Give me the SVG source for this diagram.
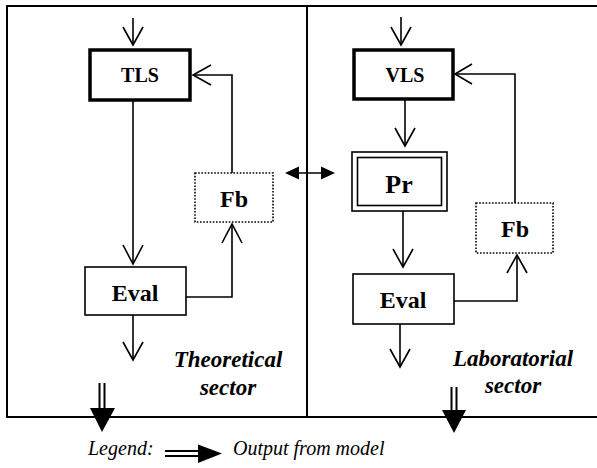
<svg xmlns="http://www.w3.org/2000/svg" width="597" height="468" viewBox="0 0 597 468">
<style>
.ln{fill:none;stroke:#000;stroke-width:1.6}
.hd{fill:none;stroke:#000;stroke-width:1.6;stroke-linejoin:miter}
.fr{fill:none;stroke:#000;stroke-width:2}
.thick{fill:#fff;stroke:#000;stroke-width:3.5}
.thin{fill:#fff;stroke:#000;stroke-width:1.6}
.dot{fill:#fff;stroke:#000;stroke-width:1.6;stroke-dasharray:1.6 1.6}
text{font-family:'Liberation Serif','DejaVu Serif',serif}
.lbl{font-weight:bold;text-anchor:middle;fill:#000}
.sec{font-weight:bold;font-style:italic;font-size:23px;text-anchor:middle;fill:#000}
.leg{font-style:italic;font-size:20px;fill:#000}
.fill{fill:#000;stroke:none}
</style>
<g id="frame">
<polyline class="fr" points="597,6 7,6 7,417 597,417"/>
<line class="fr" x1="307" y1="6" x2="307" y2="417"/>
</g>
<g id="connectors">
<line class="ln" x1="133" y1="18" x2="133" y2="45"/>
<polyline class="hd" points="123,27 133,45 143,27"/>
<line class="ln" x1="133" y1="100" x2="133" y2="264"/>
<polyline class="hd" points="123,245 133,264 143,245"/>
<line class="ln" x1="133" y1="315" x2="133" y2="360"/>
<polyline class="hd" points="123,342 133,360 143,342"/>
<polyline class="ln" points="186,297 232,297 232,224"/>
<polyline class="hd" points="222,243 232,224 242,243"/>
<polyline class="ln" points="232,173 232,75 193,75"/>
<polyline class="hd" points="211,65 193,75 211,85"/>
<line class="ln" x1="292" y1="173" x2="328" y2="173"/>
<polygon class="fill" points="285,173 299,166.5 299,179.5"/>
<polygon class="fill" points="335,173 321,166.5 321,179.5"/>
<line class="ln" x1="401" y1="17" x2="401" y2="45"/>
<polyline class="hd" points="391,27 401,45 411,27"/>
<line class="ln" x1="405" y1="99" x2="405" y2="146"/>
<polyline class="hd" points="395,128 405,146 415,128"/>
<line class="ln" x1="403" y1="211" x2="403" y2="267"/>
<polyline class="hd" points="393,249 403,267 413,249"/>
<line class="ln" x1="400" y1="324" x2="400" y2="367"/>
<polyline class="hd" points="390,349 400,367 410,349"/>
<polyline class="ln" points="454,301 517,301 517,255"/>
<polyline class="hd" points="507,273 517,255 527,273"/>
<polyline class="ln" points="515,203 515,74 455,74"/>
<polyline class="hd" points="472,64 455,74 472,84"/>
<line class="fr" x1="99.5" y1="383" x2="99.5" y2="410"/>
<line class="fr" x1="104.5" y1="383" x2="104.5" y2="410"/>
<polygon class="fill" points="90,408 115,408 102,432"/>
<line class="fr" x1="451.5" y1="387" x2="451.5" y2="412"/>
<line class="fr" x1="456.5" y1="387" x2="456.5" y2="412"/>
<polygon class="fill" points="442,410 466,410 454,433"/>
</g>
<g id="TLS">
<rect class="thick" x="90" y="50" width="100" height="50"/>
<text class="lbl" x="140" y="82" font-size="20">TLS</text>
</g>
<g id="Fb1">
<rect class="dot" x="195" y="173" width="78" height="49"/>
<text class="lbl" x="234" y="207" font-size="24">Fb</text>
</g>
<g id="Eval1">
<rect class="thin" x="85" y="267" width="101" height="48"/>
<text class="lbl" x="135" y="301" font-size="24">Eval</text>
</g>
<g id="VLS">
<rect class="thick" x="354" y="50" width="99" height="49"/>
<text class="lbl" x="405" y="82" font-size="20">VLS</text>
</g>
<g id="Pr">
<rect class="thin" x="352" y="152" width="95" height="59" stroke-width="2"/>
<rect class="thin" x="357.5" y="157.5" width="84" height="48" stroke-width="2"/>
<text class="lbl" x="399" y="193" font-size="26">Pr</text>
</g>
<g id="Fb2">
<rect class="dot" x="476" y="203" width="77" height="50"/>
<text class="lbl" x="515" y="237" font-size="24">Fb</text>
</g>
<g id="Eval2">
<rect class="thin" x="353" y="274" width="101" height="50"/>
<text class="lbl" x="403" y="308" font-size="24">Eval</text>
</g>
<g id="sectors">
<text class="sec" x="228" y="367">Theoretical</text>
<text class="sec" x="228" y="395">sector</text>
<text class="sec" x="513" y="366">Laboratorial</text>
<text class="sec" x="513" y="393">sector</text>
</g>
<g id="legend">
<text class="leg" x="88" y="455">Legend:</text>
<line class="fr" x1="165" y1="451" x2="200" y2="451"/>
<line class="fr" x1="165" y1="456" x2="200" y2="456"/>
<polygon class="fill" points="198,444.5 198,463 222,453.5"/>
<text class="leg" x="233" y="455">Output from model</text>
</g>
</svg>
